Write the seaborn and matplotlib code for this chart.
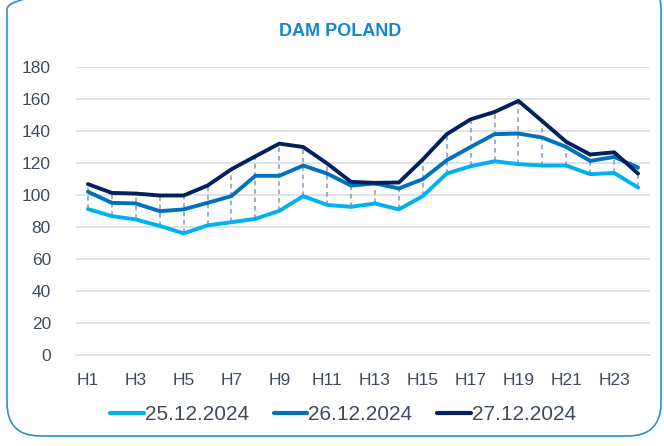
import numpy as np
import pandas as pd
import seaborn as sns
import matplotlib.pyplot as plt
from matplotlib.patches import FancyBboxPatch

hours = ['H%d' % i for i in range(1, 25)]
d25 = [91.2, 86.8, 84.7, 80.7, 76.0, 81.0, 83.0, 85.1, 90.1, 99.3, 93.8, 92.6,
       94.7, 91.0, 99.3, 113.4, 118.0, 121.1, 119.3, 118.4, 118.4, 113.0, 113.8, 104.7]
d26 = [102.0, 95.1, 94.7, 89.9, 91.0, 95.1, 99.3, 112.0, 112.0, 118.4, 113.4, 105.9,
       107.2, 104.1, 109.9, 121.7, 130.0, 138.0, 138.4, 135.9, 130.0, 121.3, 123.8, 117.2]
d27 = [106.8, 101.3, 100.9, 99.7, 99.7, 105.9, 116.1, 124.2, 132.1, 130.0, 119.7, 108.2,
       107.6, 107.8, 122.2, 138.0, 147.3, 151.9, 158.8, 146.1, 133.2, 125.3, 126.7, 113.4]
dates = ['25.12.2024', '26.12.2024', '27.12.2024']
colors = ['#00b0f0', '#0070c0', '#002060']

df = pd.DataFrame({'x': list(range(24)) * 3,
                   'value': d25 + d26 + d27,
                   'date': [dates[0]] * 24 + [dates[1]] * 24 + [dates[2]] * 24})

sns.set_style('white')
plt.rcParams['font.family'] = ['Liberation Sans', 'DejaVu Sans']
txt = '#3f4b5e'

fig = plt.figure(figsize=(6.64, 4.46), dpi=100)
ax = fig.add_axes([76 / 664, 1 - 355 / 446, 574 / 664, 288 / 446])

# dashed drop lines between lowest and highest series
lo = np.minimum(np.minimum(d25, d26), d27)
hi = np.maximum(np.maximum(d25, d26), d27)
ax.vlines(range(24), lo, hi, colors='#8497b0', linestyles=(0, (3, 2.5)), linewidth=1.1, zorder=1)

sns.lineplot(data=df, x='x', y='value', hue='date', palette=colors, linewidth=2.8,
             ax=ax, zorder=3)

ax.set_xlim(-0.5, 23.5)
ax.set_ylim(0, 180)
ax.set_yticks(range(0, 181, 20))
ax.grid(axis='y', color='#d9dde5', linewidth=1.2)
ax.set_axisbelow(True)
for s in ['top', 'right', 'left']:
    ax.spines[s].set_visible(False)
ax.spines['bottom'].set_color('#d9dde5')
ax.spines['bottom'].set_linewidth(1.2)
ax.set_xticks(range(0, 24, 2))
ax.set_xticklabels(hours[::2])
ax.set_xticks(np.arange(-0.5, 24, 1), minor=True)
ax.tick_params(axis='x', which='major', length=0, pad=13, labelsize=12.5, labelcolor=txt)
ax.tick_params(axis='x', which='minor', length=6, width=1.2, color='#d9dde5', direction='out')
ax.tick_params(axis='y', length=0, pad=18, labelsize=12.5, labelcolor=txt)
ax.set_xlabel('')
ax.set_ylabel('')

leg = ax.legend(loc='center', bbox_to_anchor=(343 / 664, 1 - 415 / 446),
                bbox_transform=fig.transFigure, ncol=3, frameon=False, fontsize=15,
                handlelength=1.6, handletextpad=0.05, columnspacing=1.2)
for t in leg.get_texts():
    t.set_color(txt)
for l in leg.get_lines():
    l.set_linewidth(3)

fig.text(340 / 664, 1 - 31 / 446, 'DAM POLAND', ha='center', va='center', fontsize=13,
         fontweight='bold', color='#1486d0')

box = FancyBboxPatch((7 / 664, 10 / 446), 654 / 664, 460 / 446,
                     boxstyle='round,pad=0,rounding_size=0.05', transform=fig.transFigure,
                     fill=False, edgecolor='#2b8fd6', linewidth=1.2, mutation_aspect=664 / 446)
fig.patches.append(box)

fig.savefig('out.png', dpi=100)
